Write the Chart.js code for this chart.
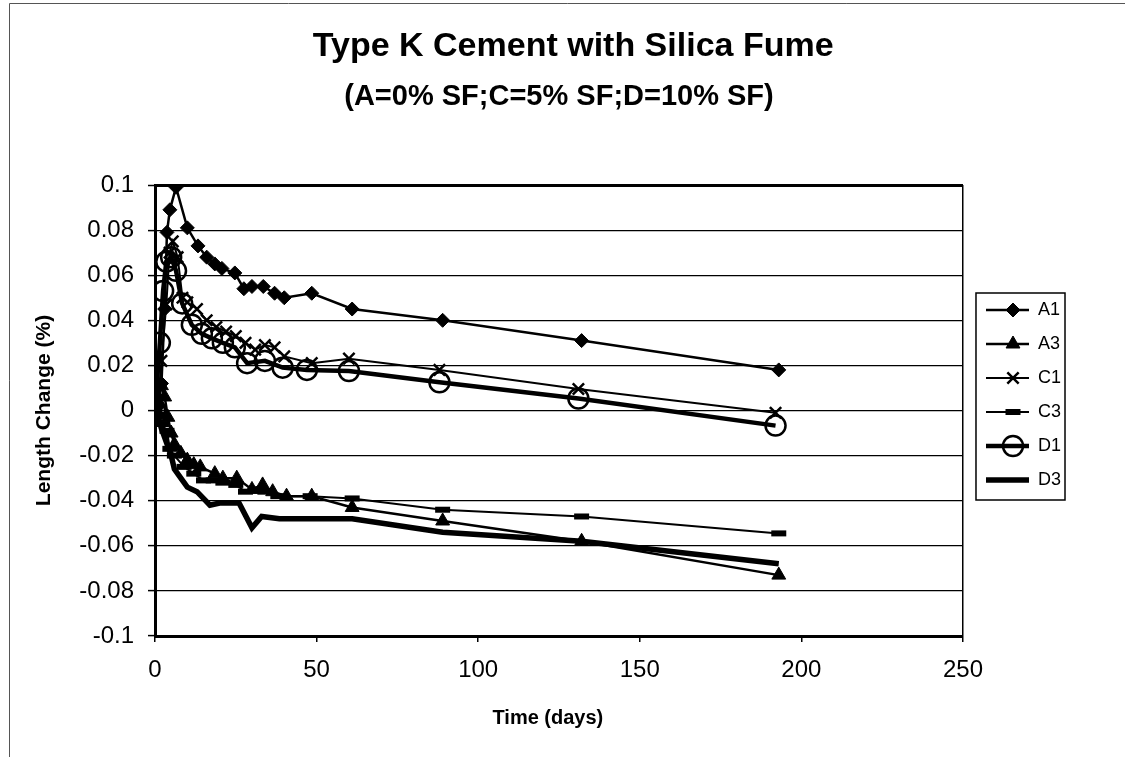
<!DOCTYPE html>
<html>
<head>
<meta charset="utf-8">
<script src="https://cdn.jsdelivr.net/npm/chart.js@4/dist/chart.umd.min.js"></script>
<style>
  html, body { margin: 0; padding: 0; background: #fff; }
</style>
</head>
<body>
<canvas id="shrinkChart" width="1125" height="757"></canvas>
<script>
// titles
const chartTitle = '   Type K Cement with Silica Fume';
const chartSubtitle = '(A=0% SF;C=5% SF;D=10% SF)';
const xTitle = 'Time (days)    ';
const yTitle = 'Length Change (%)';

// ticks
const xTicks = [0, 50, 100, 150, 200, 250];
const xTickLabels = ['0', '50', '100', '150', '200', '250'];
const yTicks = [-0.1, -0.08, -0.06, -0.04, -0.02, 0, 0.02, 0.04, 0.06, 0.08, 0.1];
const yTickLabels = ['-0.1', '-0.08', '-0.06', '-0.04', '-0.02', '0', '0.02', '0.04', '0.06', '0.08', '0.1'];

const seriesNames = ['A1', 'A3', 'C1', 'C3', 'D1', 'D3'];

// series (days, length change %)
const daysA1 = [0, 1, 2, 3, 3.7, 4.6, 6.5, 10, 13.3, 16, 18.5, 20.7, 24.7, 27.5, 30, 33.5, 37, 40, 48.5, 61, 89, 132, 193];
const a1 = [0, 0.002, 0.012, 0.045, 0.079, 0.089, 0.099, 0.081, 0.073, 0.068, 0.065, 0.063, 0.061, 0.054, 0.055, 0.055, 0.052, 0.050, 0.052, 0.045, 0.040, 0.031, 0.018];

const daysA3 = [0, 1, 2, 3, 4, 5, 6, 8, 10, 12, 14, 18.5, 21, 25.3, 30, 33.3, 36.4, 40.7, 48.5, 61, 89, 132, 193];
const a3 = [0, 0.004, 0.011, 0.006, -0.003, -0.010, -0.015, -0.019, -0.022, -0.024, -0.025, -0.028, -0.030, -0.030, -0.035, -0.033, -0.036, -0.038, -0.038, -0.043, -0.049, -0.058, -0.073];

const daysC1 = [0, 1, 2, 3.5, 4.5, 5.5, 7, 8.5, 10, 13, 16, 19, 22, 25, 28, 31, 34, 37, 40, 48.5, 60, 88, 131, 192];
const c1 = [0, 0.005, 0.022, 0.047, 0.070, 0.075, 0.068, 0.050, 0.048, 0.045, 0.040, 0.037, 0.035, 0.033, 0.030, 0.027, 0.029, 0.028, 0.024, 0.021, 0.023, 0.018, 0.0095, -0.001];

const daysC3 = [0, 1, 2, 3.7, 4.6, 6, 9, 12, 15, 18, 21, 25, 28, 31, 34, 38, 48, 61, 89, 132, 193];
const c3 = [0, -0.002, -0.006, -0.009, -0.017, -0.020, -0.025, -0.028, -0.031, -0.031, -0.032, -0.033, -0.036, -0.035, -0.036, -0.038, -0.038, -0.039, -0.044, -0.047, -0.0545];

const daysD1 = [0, 1.5, 2.5, 3.5, 5, 6.5, 8.4, 11.4, 14.5, 17.6, 21, 24.7, 28.5, 34, 39.5, 47, 60, 88, 131, 192];
const d1 = [0, 0.030, 0.053, 0.066, 0.068, 0.062, 0.0475, 0.038, 0.034, 0.032, 0.030, 0.028, 0.021, 0.022, 0.019, 0.018, 0.0175, 0.0125, 0.0053, -0.0067];

const daysD3 = [0, 1, 2, 3, 4, 5, 6, 8, 10, 13, 17, 20, 26, 30, 33, 38.5, 48, 61, 89, 132, 193];
const d3 = [0, -0.003, -0.008, -0.012, -0.016, -0.020, -0.026, -0.030, -0.034, -0.036, -0.042, -0.041, -0.041, -0.052, -0.047, -0.048, -0.048, -0.048, -0.054, -0.058, -0.068];

const FONT = '"Liberation Sans", Arial, sans-serif';
const INK = '#000';

function pts(days, vals) {
  return days.map((d, i) => ({ x: d, y: vals[i] }));
}

// marker + line look of each series (also used for legend icons)
const looks = [
  { line: 2.5, style: 'rectRot', r: 7, bw: 1, fill: INK },
  { line: 2.5, style: 'triangle', r: 8, bw: 1, fill: INK },
  { line: 2, style: 'crossRot', r: 8, bw: 2.5, fill: INK },
  { line: 2, style: 'line', r: 7.5, bw: 6, fill: INK },
  { line: 4.5, style: 'circle', r: 10, bw: 2.5, fill: 'rgba(0,0,0,0)' },
  { line: 5.5, style: false, r: 0, bw: 0, fill: INK }
];
const seriesData = [pts(daysA1, a1), pts(daysA3, a3), pts(daysC1, c1), pts(daysC3, c3), pts(daysD1, d1), pts(daysD3, d3)];

// small canvases: line sample with marker, used as legend point style
const ICON_W = 50, ICON_H = 24;
function makeIcon(look) {
  const cv = document.createElement('canvas');
  cv.width = ICON_W; cv.height = ICON_H;
  const c = cv.getContext('2d');
  c.strokeStyle = INK;
  c.lineWidth = look.line;
  c.beginPath();
  c.moveTo(7, ICON_H / 2);
  c.lineTo(ICON_W, ICON_H / 2);
  c.stroke();
  if (look.style) {
    c.fillStyle = look.fill;
    c.lineWidth = look.bw;
    Chart.helpers.drawPoint(c, { pointStyle: look.style, radius: look.r, borderWidth: look.bw, rotation: 0 }, 34, ICON_H / 2);
  }
  return cv;
}
const legendIcons = looks.map(makeIcon);

const datasets = seriesNames.map((name, i) => ({
  label: name,
  data: seriesData[i],
  borderColor: INK,
  backgroundColor: INK,
  borderWidth: looks[i].line,
  pointStyle: looks[i].style || 'circle',
  pointRadius: looks[i].r,
  pointHoverRadius: looks[i].r,
  pointBorderWidth: looks[i].bw,
  pointBorderColor: INK,
  pointBackgroundColor: looks[i].fill,
  tension: 0,
  fill: false
}));

// frame around legend + page edge lines
const framePlugin = {
  id: 'frames',
  afterDraw(chart) {
    const ctx = chart.ctx;
    const hb = chart.legend.legendHitBoxes;
    ctx.save();
    ctx.strokeStyle = INK;
    ctx.lineWidth = 1.5;
    const first = hb[0], last = hb[hb.length - 1];
    const left = first.left - 3;
    let right = 0;
    hb.forEach(h => { right = Math.max(right, h.left + h.width); });
    const top = first.top - 8;
    const bottom = last.top + last.height + 11;
    ctx.strokeRect(left, top, right + 4 - left, bottom - top);
    ctx.strokeStyle = '#555';
    ctx.lineWidth = 1;
    ctx.beginPath();
    ctx.moveTo(9.5, 757);
    ctx.lineTo(9.5, 3.5);
    ctx.lineTo(1125, 3.5);
    ctx.stroke();
    ctx.restore();
  }
};

const config = {
  type: 'line',
  data: { datasets },
  options: {
    responsive: false,
    devicePixelRatio: 1,
    animation: false,
    events: [],
    layout: { padding: { left: 0, right: 54, top: 33, bottom: 0 } },
    scales: {
      x: {
        type: 'linear',
        min: 0,
        max: 250,
        afterBuildTicks: s => { s.ticks = xTicks.map(v => ({ value: v })); },
        afterFit: s => { s.height = 121; },
        ticks: {
          callback: (v, i) => xTickLabels[i],
          color: INK,
          font: { family: FONT, size: 24 },
          padding: 14,
          maxRotation: 0
        },
        grid: {
          color: c => (c.tick && c.tick.value === 250 ? INK : 'rgba(0,0,0,0)'),
          tickColor: INK,
          lineWidth: 1.5,
          tickWidth: 1.5,
          tickLength: 6
        },
        border: { color: INK, width: 3 },
        title: {
          display: true,
          text: xTitle,
          color: INK,
          font: { family: FONT, size: 20, weight: 'bold' },
          padding: { top: 0, bottom: 27 }
        }
      },
      y: {
        min: -0.1,
        max: 0.1,
        afterBuildTicks: s => { s.ticks = yTicks.map(v => ({ value: v })); },
        afterFit: s => { s.width = 155; },
        ticks: {
          callback: (v, i) => yTickLabels[i],
          color: INK,
          font: { family: FONT, size: 24 },
          padding: 14
        },
        grid: {
          color: INK,
          lineWidth: c => (c.tick && c.tick.value === 0.1 ? 3 : 1.2),
          tickWidth: 1.5,
          tickLength: 7
        },
        border: { color: INK, width: 3 },
        title: {
          display: true,
          text: yTitle,
          color: INK,
          font: { family: FONT, size: 21, weight: 'bold' },
          padding: { top: 32, bottom: 0 }
        }
      }
    },
    plugins: {
      title: {
        display: true,
        fullSize: false,
        text: chartTitle,
        color: INK,
        font: { family: FONT, size: 34, weight: 'bold', lineHeight: 0.8 },
        padding: { top: 0, bottom: 0 }
      },
      subtitle: {
        display: true,
        fullSize: false,
        text: chartSubtitle,
        color: INK,
        font: { family: FONT, size: 29, weight: 'bold', lineHeight: 0.8 },
        padding: { top: 24.7, bottom: 76.9 }
      },
      legend: {
        position: 'right',
        fullSize: true,
        align: 'center',
        labels: {
          usePointStyle: true,
          pointStyleWidth: ICON_W,
          color: INK,
          font: { family: FONT, size: 18 },
          padding: 16,
          generateLabels(chart) {
            const items = Chart.defaults.plugins.legend.labels.generateLabels(chart);
            items.forEach((it, i) => { it.pointStyle = legendIcons[i]; });
            return items;
          }
        }
      },
      tooltip: { enabled: false }
    }
  },
  plugins: [framePlugin]
};

const shrinkChart = new Chart(document.getElementById('shrinkChart'), config);
</script>
</body>
</html>
